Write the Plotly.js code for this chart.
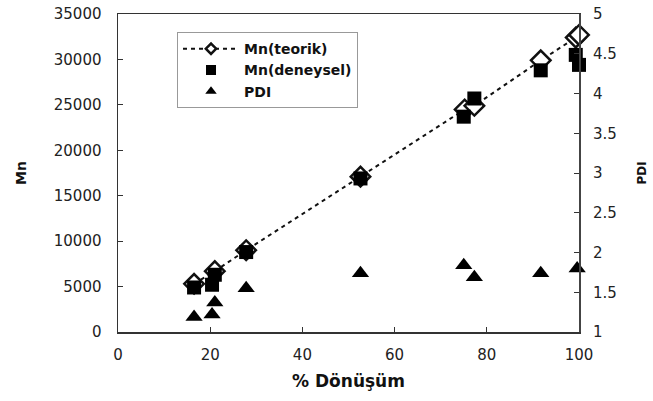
<!DOCTYPE html>
<html>
<head>
<meta charset="utf-8">
<script src="https://cdn.plot.ly/plotly-3.0.1.min.js"></script>
<style>html,body{margin:0;padding:0;background:#fff;}#chart{width:653px;height:401px;}</style>
</head>
<body>
<div id="chart"></div>
<script>
// Mn(teorik)
const teorikX = [16.5, 21.0, 27.8, 52.6, 75.2, 77.3, 91.7, 99.3, 100];
const teorikMn = [5300, 6700, 9000, 17100, 24500, 24900, 29900, 32400, 32700];
// Mn(deneysel)
const deneyselX = [16.5, 20.4, 21.0, 27.8, 52.6, 75.0, 77.3, 91.7, 99.3, 100];
const deneyselMn = [4900, 5200, 6300, 8800, 16900, 23700, 25700, 28800, 30500, 29400];
// PDI
const pdiX = [16.5, 20.4, 21.0, 27.8, 52.6, 75.0, 77.3, 91.7, 99.6];
const pdiVal = [1.19, 1.22, 1.37, 1.55, 1.74, 1.84, 1.69, 1.74, 1.80];

const seriesNames = ['Mn(teorik)', 'Mn(deneysel)', 'PDI'];

const xTicks = [0, 20, 40, 60, 80, 100];
const yTicks = [0, 5000, 10000, 15000, 20000, 25000, 30000, 35000];
const y2Ticks = [1, 1.5, 2, 2.5, 3, 3.5, 4, 4.5, 5];

const FONT = 'DejaVu Sans, Arial, sans-serif';
const tickFont = {family: FONT, size: 15, color: '#222'};
const titleFont = {family: FONT, size: 17, color: '#111', weight: 'bold'};

const teorikLine = {color: '#111', width: 2, dash: '4px,4px'};

const traces = [
  {
    x: teorikX, y: teorikMn, name: seriesNames[0], type: 'scatter', mode: 'lines+markers',
    line: teorikLine, cliponaxis: false, showlegend: false,
    marker: {symbol: 'diamond', size: 15, color: '#fff', line: {color: '#111', width: 2.5}},
    yaxis: 'y'
  },
  {
    x: deneyselX, y: deneyselMn, name: seriesNames[1], type: 'scatter', mode: 'markers',
    cliponaxis: false, showlegend: false,
    marker: {symbol: 'square', size: 14, color: '#000'},
    yaxis: 'y'
  },
  {
    x: pdiX, y: pdiVal, name: seriesNames[2], type: 'scatter', mode: 'markers',
    cliponaxis: false, showlegend: false,
    marker: {symbol: 'triangle-up', size: 15, color: '#000'},
    yaxis: 'y2'
  },
  // legend-only entries (no data drawn), smaller symbols as in the reference legend
  {
    x: [null], y: [null], name: seriesNames[0], type: 'scatter', mode: 'lines+markers',
    line: teorikLine,
    marker: {symbol: 'diamond', size: 8, color: '#fff', line: {color: '#111', width: 2.5}}
  },
  {
    x: [null], y: [null], name: seriesNames[1], type: 'scatter', mode: 'markers',
    marker: {symbol: 'square', size: 10, color: '#000'}
  },
  {
    x: [null], y: [null], name: seriesNames[2], type: 'scatter', mode: 'markers',
    marker: {symbol: 'triangle-up', size: 10, color: '#000'}
  }
];

const layout = {
  width: 653, height: 401,
  margin: {l: 118, r: 74, t: 14, b: 69},
  paper_bgcolor: '#fff', plot_bgcolor: '#fff',
  showlegend: true,
  legend: {
    x: 0.128, y: 0.943, xanchor: 'left', yanchor: 'top',
    bordercolor: '#999', borderwidth: 1, bgcolor: '#fff',
    font: {family: FONT, size: 14, color: '#111', weight: 'bold'},
    itemwidth: 56, itemsizing: 'trace', tracegroupgap: 0
  },
  xaxis: {
    range: [0, 100], tickvals: xTicks, ticktext: xTicks.map(String),
    showgrid: false, zeroline: false, showline: true, mirror: true,
    linecolor: '#333', linewidth: 1.5,
    ticks: 'inside', ticklen: 5, tickcolor: '#333', tickwidth: 1,
    tickfont: tickFont, ticklabelstandoff: 8,
    title: {text: '% Dönüşüm', font: titleFont, standoff: 12}
  },
  yaxis: {
    range: [0, 35000], tickvals: yTicks, ticktext: yTicks.map(String),
    showgrid: false, zeroline: false, showline: true,
    linecolor: '#333', linewidth: 1.5,
    ticks: 'inside', ticklen: 5, tickcolor: '#333', tickwidth: 1,
    tickfont: tickFont, ticklabelstandoff: 12,
    title: {text: 'Mn', font: {family: FONT, size: 14, color: '#111', weight: 'bold'}, standoff: 24}
  },
  yaxis2: {
    range: [1, 5], tickvals: y2Ticks, ticktext: y2Ticks.map(String),
    overlaying: 'y', side: 'right',
    showgrid: false, zeroline: false, showline: true,
    linecolor: '#444', linewidth: 2,
    ticks: 'inside', ticklen: 5, tickcolor: '#333', tickwidth: 1,
    tickfont: tickFont, ticklabelstandoff: 9,
    title: {text: 'PDI', font: {family: FONT, size: 12, color: '#111', weight: 'bold'}, standoff: 22}
  }
};

Plotly.newPlot('chart', traces, layout, {displayModeBar: false, staticPlot: true});
</script>
</body>
</html>
